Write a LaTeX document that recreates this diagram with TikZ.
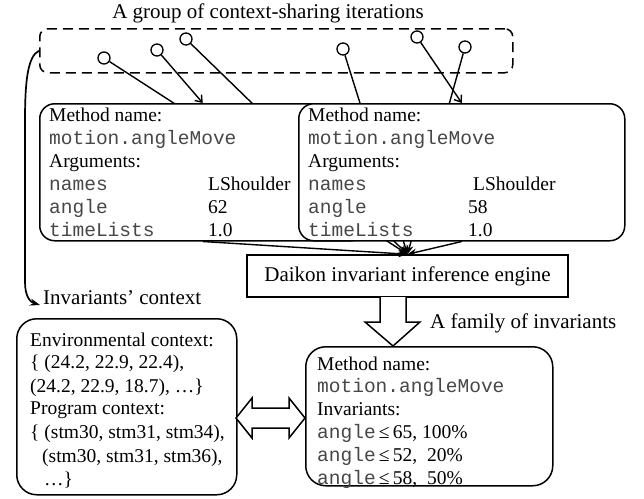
\documentclass[tikz,border=0pt]{standalone}
\usepackage{fontspec}
\setmainfont{Liberation Serif}
\setmonofont{Liberation Mono}
\usetikzlibrary{arrows.meta,calc}
\pgfdeclarelayer{bg}
\pgfsetlayers{bg,main}
\colorlet{codegray}{black!72}
\newcommand{\codeword}[1]{\textcolor{codegray}{\texttt{#1}}}
\begin{document}
\begin{tikzpicture}[x=1pt,y=-1pt,
  lw/.style={line width=1.4pt},
  bodytxt/.style={font=\fontsize{19.5}{23}\selectfont, inner sep=0pt, anchor=base west},
  codetxt/.style={font=\fontsize{19.5}{23}\selectfont\ttfamily, text=codegray, inner sep=0pt, anchor=base west},
  headtxt/.style={font=\fontsize{21}{25}\selectfont, inner sep=0pt},
  roundbox/.style={draw, line width=1.5pt, fill=white, rounded corners=#1, inner sep=0pt, anchor=north west},
  dot/.style={circle, draw, line width=1.3pt, minimum size=12pt, inner sep=0pt, fill=white},
  conv/.style={lw, -{Stealth[length=9pt,width=7pt]}},
  barb/.style={lw, -{Straight Barb[length=6pt,width=9pt]}},
  hollow/.style={line width=1.5pt, fill=white, line join=miter}
]
\useasboundingbox (0,0) rectangle (644,498);

% title and group of iterations
\node[headtxt] (title) at (268,13) {A group of context-sharing iterations};
\node[draw, dashed, dash pattern=on 10pt off 6pt, line width=1.5pt, rounded corners=8pt,
      minimum width=473pt, minimum height=44pt, inner sep=0pt, anchor=north west] (grp) at (39,28) {};
\node[dot] (c1) at (104,58) {};
\node[dot] (c2) at (157,50) {};
\node[dot] (c3) at (186,39) {};
\node[dot] (c4) at (343,49) {};
\node[dot] (c5) at (417,37) {};
\node[dot] (c6) at (465,47) {};

% upper left box
\node[roundbox=15pt, minimum width=326pt, minimum height=137pt] (lbox) at (39,103) {};
\node[bodytxt] (l1) at (49,121) {Method name:};
\node[codetxt] (l2) at (49,144) {motion.angleMove};
\node[bodytxt] (l3) at (49,167) {Arguments:};
\node[codetxt] (l4) at (49,190) {names};
\node[bodytxt] (l4v) at (208,190) {LShoulder};
\node[codetxt] (l5) at (49,213) {angle};
\node[bodytxt] (l5v) at (208,213) {62};
\node[codetxt] (l6) at (49,236) {timeLists};
\node[bodytxt] (l6v) at (208,236) {1.0};

% upper right box
\node[roundbox=15pt, minimum width=326pt, minimum height=137pt] (rbox) at (298,103) {};
\node[bodytxt] (r1) at (308,121) {Method name:};
\node[codetxt] (r2) at (308,144) {motion.angleMove};
\node[bodytxt] (r3) at (308,167) {Arguments:};
\node[codetxt] (r4) at (308,190) {names};
\node[bodytxt] (r4v) at (473,190) {LShoulder};
\node[codetxt] (r5) at (308,213) {angle};
\node[bodytxt] (r5v) at (468,213) {58};
\node[codetxt] (r6) at (308,236) {timeLists};
\node[bodytxt] (r6v) at (468,236) {1.0};

% engine
\node[draw, line width=1.5pt, fill=white, minimum width=321pt, minimum height=42pt, inner sep=0pt,
      font=\fontsize{21}{25}\selectfont] (eng) at (407.5,276) {Daikon invariant inference engine};

% lines passing behind the boxes
\begin{pgfonlayer}{bg}
\foreach \c in {c1,c3,c4,c6} \draw[conv] (\c) -- (eng.north);
\end{pgfonlayer}
\draw[barb] (c2) -- (lbox.north);
\draw[barb] (c5) -- (rbox.north);
\draw[conv] (lbox.south) -- (eng.north);
\draw[conv] (rbox.south) -- (eng.north);

% invariants' context
\node[headtxt, anchor=west] (ctx) at (43,298) {Invariants’ context};
\coordinate (ctip) at (40,305);
\draw[line width=1.7pt, -{Stealth[length=10pt,width=7pt]}] (grp.west) .. controls (28,56) and (25,80) .. (25,120)
   -- (25,282) .. controls (25,296) and (30,302) .. (ctip);

% family of invariants
\node[headtxt, anchor=west] (fam) at (430,323) {A family of invariants};
\coordinate (fa) at (393,297);
\coordinate (fb) at (393,346);
\draw[hollow] ($(fa)+(-13,0)$) -- ($(fa)+(-13,25)$) -- ($(fa)+(-28,25)$) -- (fb)
   -- ($(fa)+(27,25)$) -- ($(fa)+(13,25)$) -- ($(fa)+(13,0)$);

% bottom left box
\node[roundbox=20pt, minimum width=220pt, minimum height=176pt] (envbox) at (16,318) {};
\node[bodytxt] (e1) at (30,346) {Environmental context:};
\node[bodytxt] (e2) at (30,368) {\{ (24.2, 22.9, 22.4),};
\node[bodytxt] (e3) at (30,392) {(24.2, 22.9, 18.7), …\}};
\node[bodytxt] (e4) at (30,414) {Program context:};
\node[bodytxt] (e5) at (30,438) {\{ (stm30, stm31, stm34),};
\node[bodytxt] (e6) at (42,462) {(stm30, stm31, stm36),};
\node[bodytxt] (e7) at (44,485) {…\}};

% bottom right box
\node[roundbox=20pt, minimum width=247pt, minimum height=139pt] (invbox) at (305,346) {};
\node[bodytxt] (i1) at (317,370) {Method name:};
\node[codetxt] (i2) at (317,392) {motion.angleMove};
\node[bodytxt] (i3) at (317,415) {Invariants:};
\node[bodytxt] (i4) at (317,438) {\codeword{angle}\,≤\,65, 100\%};
\node[bodytxt] (i5) at (317,461) {\codeword{angle}\,≤\,52,\hspace{0.5em}20\%};
\node[bodytxt] (i6) at (317,484) {\codeword{angle}\,≤\,58,\hspace{0.5em}50\%};

% double arrow
\coordinate (da1) at (236,418);
\coordinate (da2) at (305,418);
\draw[hollow] (da1) -- ($(da1)+(16,-20)$) -- ($(da1)+(16,-10)$) -- ($(da2)+(-16,-10)$)
   -- ($(da2)+(-16,-20)$) -- (da2) -- ($(da2)+(-16,20)$) -- ($(da2)+(-16,10)$)
   -- ($(da1)+(16,10)$) -- ($(da1)+(16,20)$) -- cycle;
\end{tikzpicture}
\end{document}
